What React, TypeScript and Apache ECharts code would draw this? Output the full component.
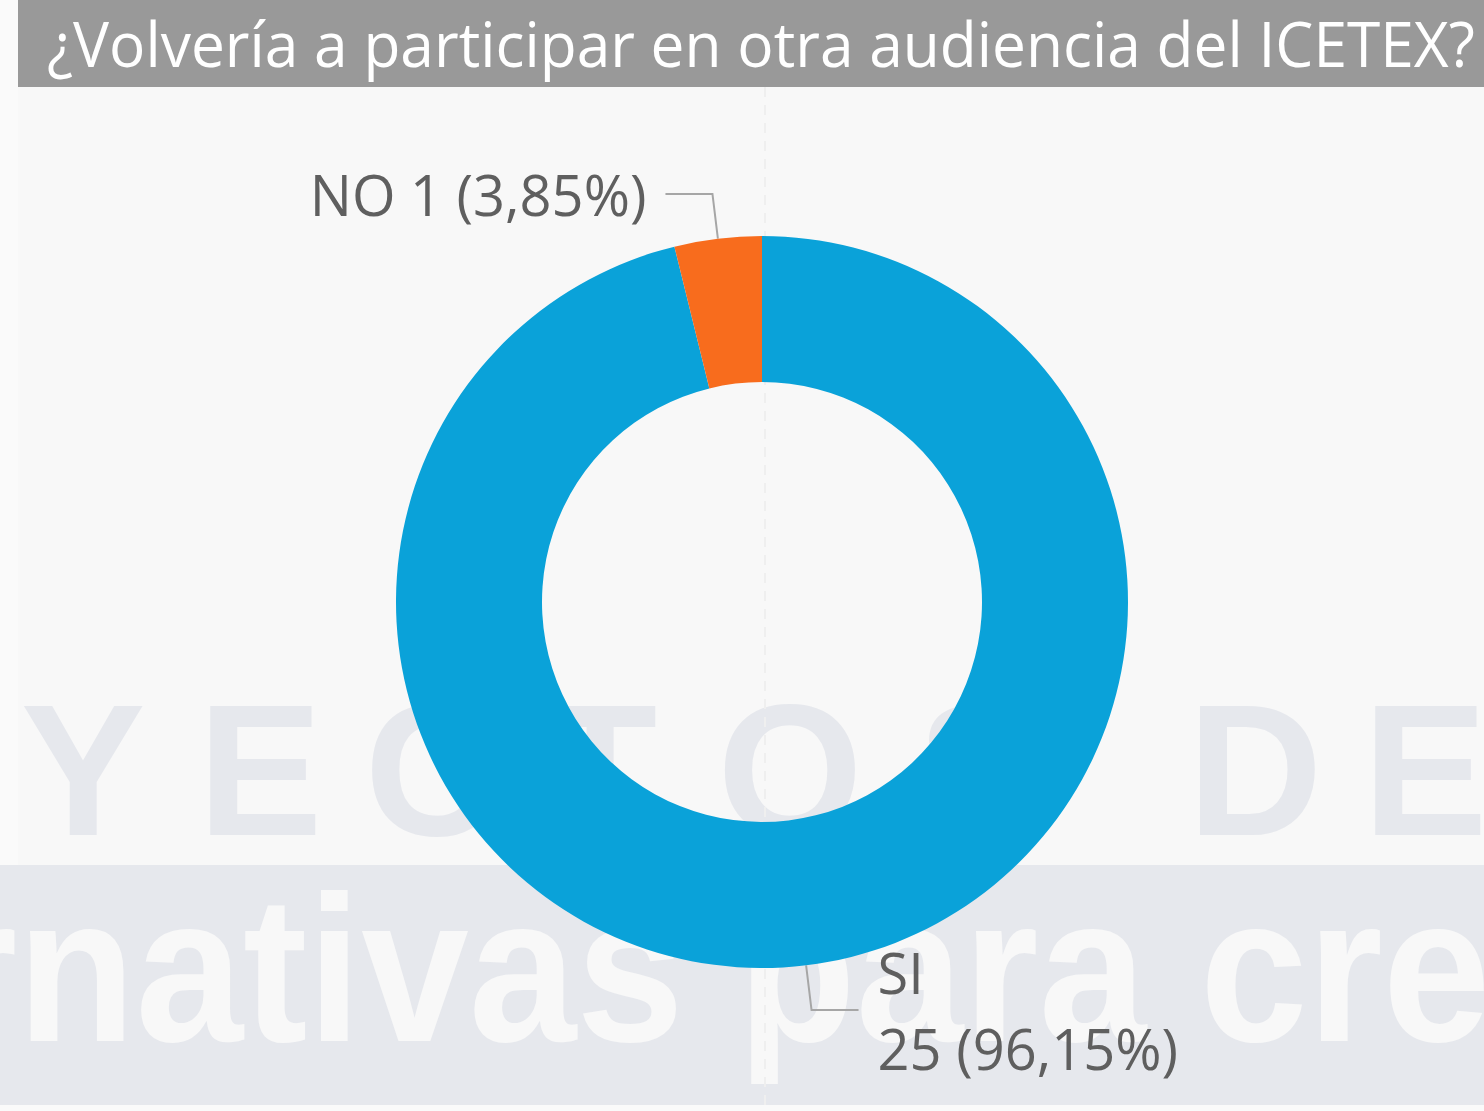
import React, { useEffect, useRef } from "react";
import * as echarts from "echarts";

const titleText = "¿Volvería a participar en otra audiencia del ICETEX?";
const categories = ["SI", "NO"];
const values = [25, 1];
const sliceColors = ["#0aa2d9", "#f86c1d"];
const watermarkLetters = ["Y", "E", "C", "T", "O", "S", "D", "E"];
const watermarkLetterX = [83, 260, 432, 600, 790, 980, 1255, 1425];
const watermarkBand = "rnativas para cre";

const W = 1484;
const H = 1111;

function measure(text: string, font: string): number {
  const c = document.createElement("canvas");
  const ctx = c.getContext("2d");
  if (!ctx) return 1;
  ctx.font = font;
  return ctx.measureText(text).width;
}

export default function App() {
  const ref = useRef<HTMLDivElement>(null);
  useEffect(() => {
    if (!ref.current) return;
    const chart = echarts.init(ref.current, undefined, { renderer: "svg" });
    const font = "'Open Sans', 'Noto Sans', sans-serif";
    const titleSize = 62;
    const tw = measure(titleText, `${titleSize}px 'Open Sans'`);
    const titleScale = 1428 / tw;

    const bandSize = 208;

    const fmtPct = (p: number) => p.toFixed(2).replace(".", ",");

    const graphics: any[] = [
      { type: "rect", z: -10, shape: { x: 0, y: 0, width: W, height: H }, style: { fill: "#fafafa" }, silent: true },
      { type: "rect", z: -9, shape: { x: 18, y: 87, width: W - 18, height: 1018 }, style: { fill: "#f8f8f8" }, silent: true },
      { type: "rect", z: -8, shape: { x: 0, y: 865, width: W, height: 240 }, style: { fill: "#e6e8ed" }, silent: true },
    ];
    watermarkLetters.forEach((ch, i) => {
      graphics.push({
        type: "text",
        z: -7,
        silent: true,
        x: watermarkLetterX[i],
        y: 770,
        style: {
          text: ch,
          fill: "#e6e8ed",
          font: `bold 187px 'Liberation Sans', Arial, sans-serif`,
          textAlign: "center",
          verticalAlign: "middle",
        },
      });
    });
    graphics.push({
      type: "text",
      z: -7,
      silent: true,
      x: -58,
      y: 969,
      scaleX: 0.93,
      style: {
        text: watermarkBand,
        fill: "#f8f8f8",
        font: `bold ${bandSize}px 'Liberation Sans', Arial, sans-serif`,
        textAlign: "left",
        verticalAlign: "middle",
      },
    });
    graphics.push({
      type: "line",
      z: -6,
      silent: true,
      shape: { x1: 765, y1: 87, x2: 765, y2: 1105 },
      style: { stroke: "#efefef", lineWidth: 2, lineDash: [10, 8] },
    });
    graphics.push({
      type: "rect",
      z: 10,
      silent: true,
      shape: { x: 18, y: 0, width: W - 18, height: 87 },
      style: { fill: "#999999" },
    });
    graphics.push({
      type: "text",
      z: 11,
      silent: true,
      x: 47,
      y: 43,
      scaleX: titleScale,
      style: {
        text: titleText,
        fill: "#ffffff",
        font: `${titleSize}px ${font}`,
        textAlign: "left",
        verticalAlign: "middle",
      },
    });

    chart.setOption({
      animation: false,
      backgroundColor: "transparent",
      graphic: { elements: graphics },
      series: [
        {
          type: "pie",
          center: [762, 602],
          radius: [220, 366],
          startAngle: 90,
          clockwise: true,
          data: categories.map((c, i) => ({
            name: c,
            value: values[i],
            itemStyle: { color: sliceColors[i] },
          })),
          label: {
            show: true,
            position: "outside",
            color: "#5f5f5f",
            fontFamily: font,
            fontSize: 56,
            lineHeight: 76,
            distanceToLabelLine: 19,
            formatter: (p: any) =>
              p.name === "SI"
                ? `${p.name}\n${p.value} (${fmtPct(p.percent)}%)`
                : `${p.name} ${p.value} (${fmtPct(p.percent)}%)`,
          },
          labelLine: {
            show: true,
            length: 45,
            length2: 47,
            lineStyle: { color: "#a6a6a6", width: 2 },
          },
          emphasis: { disabled: true },
        },
      ],
    });
    return () => chart.dispose();
  }, []);
  return (
    <div
      ref={ref}
      style={{ position: "fixed", left: 0, top: 0, width: W, height: H }}
    />
  );
}
